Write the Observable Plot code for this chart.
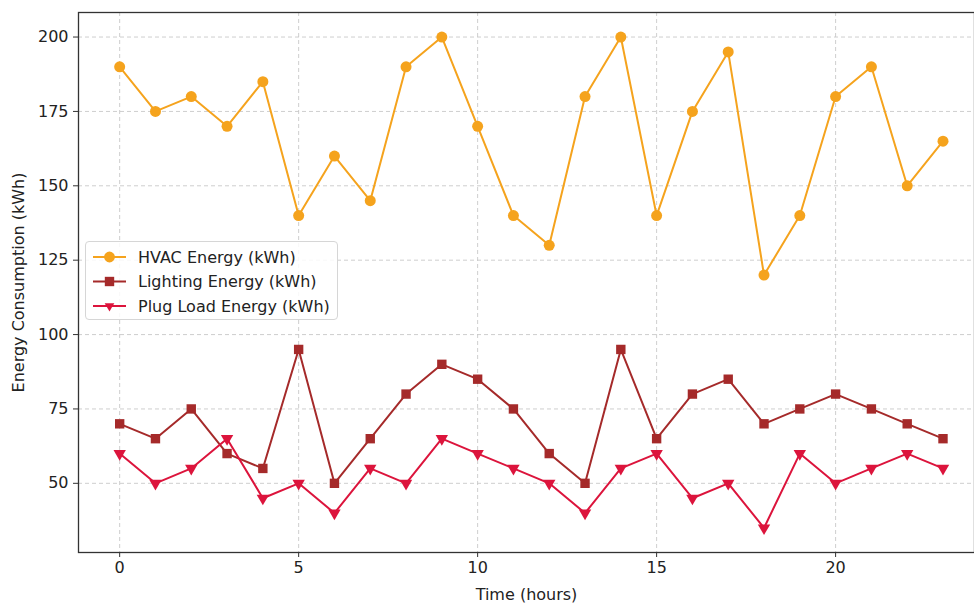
<!DOCTYPE html>
<html>
<head>
<meta charset="utf-8">
<script src="https://cdn.jsdelivr.net/npm/d3@7"></script>
<script src="https://cdn.jsdelivr.net/npm/@observablehq/plot@0.6"></script>
<style>
  html, body { margin: 0; padding: 0; background: #fff; }
  #wrap { position: relative; width: 974px; height: 603px; font-family: "DejaVu Sans", sans-serif; }
  #legend { position: absolute; left: 85px; top: 241px; width: 253px; height: 79px; border: 1px solid #d6d6d6; border-radius: 4px; background: rgba(255,255,255,0.85); box-sizing: border-box; }
  #legend svg { position: absolute; left: 0; top: 0; }
</style>
</head>
<body>
<div id="wrap"></div>
<script>
const hours = d3.range(0, 24);
const hvac = [190,175,180,170,185,140,160,145,190,200,170,140,130,180,200,140,175,195,120,140,180,190,150,165];
const lighting = [70,65,75,60,55,95,50,65,80,90,85,75,60,50,95,65,80,85,70,75,80,75,70,65];
const plugLoad = [60,50,55,65,45,50,40,55,50,65,60,55,50,40,55,60,45,50,35,60,50,55,60,55];
const seriesNames = ["HVAC Energy (kWh)", "Lighting Energy (kWh)", "Plug Load Energy (kWh)"];
const seriesColors = ["#f5a31d", "#a52a2a", "#dc143c"];
const xTicks = [0, 5, 10, 15, 20];
const yTicks = [50, 75, 100, 125, 150, 175, 200];

const rows = (vals) => hours.map((h, i) => ({h, v: vals[i]}));
const dH = rows(hvac), dL = rows(lighting), dP = rows(plugLoad);

const chart = Plot.plot({
  width: 974,
  height: 603,
  marginLeft: 78,
  marginRight: 0,
  marginTop: 12,
  marginBottom: 51,
  style: {fontFamily: "DejaVu Sans, sans-serif", fontSize: "16px", color: "#222", background: "#fff"},
  x: {domain: [-1.15, 23.88]},
  y: {domain: [26.75, 208.25]},
  marks: [
    Plot.gridX(xTicks, {stroke: "#c8c8c8", strokeOpacity: 1, strokeDasharray: "4,3", strokeWidth: 0.9}),
    Plot.gridY(yTicks, {stroke: "#c8c8c8", strokeOpacity: 1, strokeDasharray: "4,3", strokeWidth: 0.9}),
    Plot.frame({stroke: "#333", strokeWidth: 1.3}),
    Plot.line(dH, {x: "h", y: "v", stroke: seriesColors[0], strokeWidth: 2}),
    Plot.dot(dH, {x: "h", y: "v", fill: seriesColors[0], r: 5.5, symbol: "circle"}),
    Plot.line(dL, {x: "h", y: "v", stroke: seriesColors[1], strokeWidth: 2}),
    Plot.dot(dL, {x: "h", y: "v", fill: seriesColors[1], r: 5.3, symbol: "square"}),
    Plot.line(dP, {x: "h", y: "v", stroke: seriesColors[2], strokeWidth: 2}),
    Plot.dot(dP, {x: "h", y: "v", fill: seriesColors[2], r: 4.6, symbol: "triangle", rotate: 180}),
    Plot.axisX(xTicks, {tickSize: 5, tickPadding: 4, stroke: "#333", fill: "#222", fontSize: 16, label: "Time (hours)", labelAnchor: "center", labelOffset: 47, labelArrow: "none"}),
    Plot.axisY(yTicks, {tickSize: 5, tickPadding: 5, stroke: "#333", fill: "#222", fontSize: 16, label: "Energy Consumption (kWh)", labelAnchor: "center", labelOffset: 66, labelArrow: "none"})
  ]
});

const wrap = document.getElementById("wrap");
wrap.appendChild(chart);

// legend
const legend = document.createElement("div");
legend.id = "legend";
const lg = d3.create("svg").attr("width", 253).attr("height", 79);
seriesNames.forEach((name, i) => {
  const y = 15 + i * 24.5;
  lg.append("line").attr("x1", 7).attr("x2", 40).attr("y1", y).attr("y2", y)
    .attr("stroke", seriesColors[i]).attr("stroke-width", 2);
  const sym = [d3.symbolCircle, d3.symbolSquare, d3.symbolTriangle2][i];
  const size = [92, 88, 66][i];
  lg.append("path").attr("d", d3.symbol(sym, size)())
    .attr("transform", `translate(23.5,${y})` + (i === 2 ? " rotate(180)" : ""))
    .attr("fill", seriesColors[i]);
  lg.append("text").attr("x", 52).attr("y", y).attr("dy", "0.35em")
    .attr("font-family", "DejaVu Sans, sans-serif").attr("font-size", 16).attr("fill", "#222")
    .text(name);
});
legend.appendChild(lg.node());
wrap.appendChild(legend);
</script>
</body>
</html>
